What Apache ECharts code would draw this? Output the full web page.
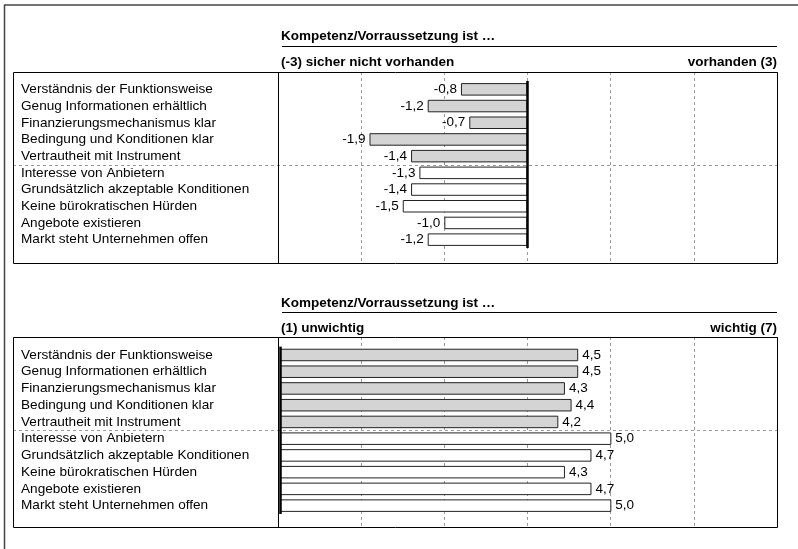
<!DOCTYPE html>
<html>
<head>
<meta charset="utf-8">
<script src="https://cdn.jsdelivr.net/npm/echarts@6/dist/echarts.min.js"></script>
<style>
  html, body { margin: 0; padding: 0; background: #fff; }
  #chart { width: 798px; height: 549px; }
</style>
</head>
<body>
<div id="chart"></div>
<script>
// Aussagen (beide Diagramme verwenden dieselben Kategorien)
const kategorien = [
  'Verständnis der Funktionsweise',
  'Genug Informationen erhältlich',
  'Finanzierungsmechanismus klar',
  'Bedingung und Konditionen klar',
  'Vertrautheit mit Instrument',
  'Interesse von Anbietern',
  'Grundsätzlich akzeptable Konditionen',
  'Keine bürokratischen Hürden',
  'Angebote existieren',
  'Markt steht Unternehmen offen'
];
// Mittelwerte: vorhanden (-3 … 3) und Wichtigkeit (1 … 7)
const vorhanden = [-0.8, -1.2, -0.7, -1.9, -1.4, -1.3, -1.4, -1.5, -1.0, -1.2];
const wichtig = [4.5, 4.5, 4.3, 4.4, 4.2, 5.0, 4.7, 4.3, 4.7, 5.0];
// Die ersten Aussagen betreffen das Unternehmen selbst (graue Balken)
const ersteGruppe = 5;

const titel = 'Kompetenz/Vorraussetzung ist …';
const skala1 = ['(-3) sicher nicht vorhanden', 'vorhanden (3)'];
const skala2 = ['(1) unwichtig', 'wichtig (7)'];

const FONT = 'Liberation Sans, Arial, sans-serif';
const chart = echarts.init(document.getElementById('chart'));

// Layout der beiden Tafeln
const boxLeft = 13, plotLeft = 278, plotRight = 777;
const panels = [
  { boxTop: 72, boxBottom: 263, bandTop: 81, bandH: 167, titleY: 36.5, lineY: 46.5, scaleY: 62.5,
    barLeft: 278, min: -3, max: 3, values: vorhanden, labelPos: 'left', scale: skala1 },
  { boxTop: 337, boxBottom: 527, bandTop: 346.6, bandH: 167.4, titleY: 303.5, lineY: 312.5, scaleY: 328.5,
    barLeft: 280, min: 0, max: 7.5, values: wichtig, labelPos: 'right', scale: skala2 }
];

const fmt = v => v.toFixed(1).replace('.', ',');

const grids = [], xAxes = [], yAxes = [], series = [], graphics = [];

// Rahmen der gesamten Abbildung (oben und links)
graphics.push({ type: 'line', shape: { x1: 4, y1: 5, x2: 798, y2: 5 }, style: { stroke: '#444', lineWidth: 1.5 } });
graphics.push({ type: 'line', shape: { x1: 4.5, y1: 5, x2: 4.5, y2: 549 }, style: { stroke: '#444', lineWidth: 1.5 } });

panels.forEach((p, i) => {
  const gBox = i * 2, gBar = i * 2 + 1;
  // Tafel mit Gitterlinien
  grids.push({ left: plotLeft, width: plotRight - plotLeft, top: p.boxTop, height: p.boxBottom - p.boxTop, show: false });
  // Balkenbereich
  grids.push({ left: p.barLeft, width: plotRight - p.barLeft, top: p.bandTop, height: p.bandH, show: false });

  xAxes.push({
    type: 'value', gridIndex: gBox, min: 0, max: 6, interval: 1,
    axisLine: { show: false }, axisTick: { show: false }, axisLabel: { show: false },
    splitLine: { show: true, lineStyle: { color: '#9a9a9a', type: [3, 3], width: 1 } }
  });
  yAxes.push({ type: 'value', gridIndex: gBox, show: false, splitLine: { show: false } });

  xAxes.push({
    type: 'value', gridIndex: gBar, min: p.min, max: p.max,
    axisLine: { show: false }, axisTick: { show: false }, axisLabel: { show: false }, splitLine: { show: false }
  });
  yAxes.push({
    type: 'category', gridIndex: gBar, data: kategorien, inverse: true,
    axisLine: { show: false, onZero: false }, axisTick: { show: false }, splitLine: { show: false },
    axisLabel: { interval: 0, hideOverlap: false, align: 'left', margin: p.barLeft - 21,
      fontFamily: FONT, fontSize: 13.6, color: '#000' }
  });

  series.push({
    type: 'bar', xAxisIndex: gBar, yAxisIndex: gBar, data: p.values,
    barWidth: 12.5,
    itemStyle: {
      color: params => (params.dataIndex < ersteGruppe ? '#d4d4d4' : '#ffffff'),
      borderColor: '#222', borderWidth: 1
    },
    label: {
      show: true, position: p.labelPos, distance: 4,
      fontFamily: FONT, fontSize: 13.5, color: '#000',
      formatter: params => fmt(params.value)
    },
    markLine: {
      silent: true, symbol: 'none', label: { show: false },
      lineStyle: { color: '#000', type: 'solid', width: 2.5 },
      data: [{ xAxis: 0 }]
    },
    animation: false
  });

  // Rahmen und Trennlinien der Tafel
  graphics.push({ type: 'rect', shape: { x: boxLeft + 0.5, y: p.boxTop + 0.5, width: plotRight - boxLeft, height: p.boxBottom - p.boxTop },
    style: { fill: null, stroke: '#000', lineWidth: 1 }, z: 10 });
  graphics.push({ type: 'line', shape: { x1: plotLeft + 0.5, y1: p.boxTop, x2: plotLeft + 0.5, y2: p.boxBottom },
    style: { stroke: '#000', lineWidth: 1 }, z: 10 });
  const sepY = Math.round(p.bandTop + p.bandH * ersteGruppe / kategorien.length) + 0.5;
  graphics.push({ type: 'line', shape: { x1: boxLeft, y1: sepY, x2: plotRight, y2: sepY },
    style: { stroke: '#9a9a9a', lineWidth: 1, lineDash: [3, 3] }, z: 1 });

  // Überschriften
  graphics.push({ type: 'text', x: 281, y: p.titleY,
    style: { text: titel, font: 'bold 13.5px ' + FONT, fill: '#000', textVerticalAlign: 'middle' } });
  graphics.push({ type: 'line', shape: { x1: 282, y1: p.lineY, x2: plotRight, y2: p.lineY },
    style: { stroke: '#000', lineWidth: 1 } });
  graphics.push({ type: 'text', x: 281, y: p.scaleY,
    style: { text: p.scale[0], font: 'bold 13.5px ' + FONT, fill: '#000', textVerticalAlign: 'middle' } });
  graphics.push({ type: 'text', x: plotRight, y: p.scaleY,
    style: { text: p.scale[1], font: 'bold 13.5px ' + FONT, fill: '#000', textVerticalAlign: 'middle', textAlign: 'right' } });
});

chart.setOption({
  animation: false,
  backgroundColor: '#fff',
  grid: grids,
  xAxis: xAxes,
  yAxis: yAxes,
  series: series,
  graphic: graphics
});
</script>
</body>
</html>
